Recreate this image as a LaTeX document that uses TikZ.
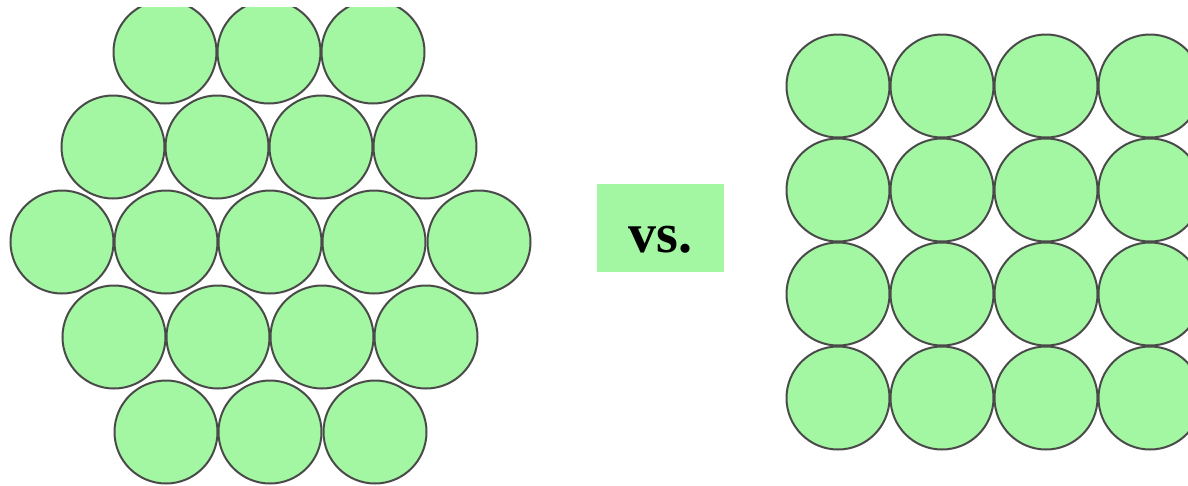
\documentclass[tikz,border=0pt]{standalone}
\usepackage{fontspec}
\setmainfont{Liberation Serif}
\definecolor{ballfill}{HTML}{A3F7A3}
\definecolor{ballline}{HTML}{4A4A4A}
\begin{document}
\begin{tikzpicture}[x=1pt,y=-1pt,
  ball/.style={circle,draw=ballline,line width=2pt,fill=ballfill,minimum size=103pt,inner sep=0pt},
  vsbox/.style={fill=ballfill,minimum width=127pt,minimum height=88pt,inner sep=0pt,text height=48pt,text depth=0pt,font=\fontsize{56}{60}\selectfont\bfseries}]
\useasboundingbox (0,0) rectangle (1188,485);
\begin{scope}
\clip (0,7) rectangle (1188,485);
% hexagonal packing
\foreach \x [count=\i] in {165,269,373} \node[ball] (h1-\i) at (\x,52) {};
\foreach \x [count=\i] in {113,217,321,425} \node[ball] (h2-\i) at (\x,147) {};
\foreach \x [count=\i] in {62,166,270,374,479} \node[ball] (h3-\i) at (\x,242) {};
\foreach \x [count=\i] in {114,218,322,426} \node[ball] (h4-\i) at (\x,337) {};
\foreach \x [count=\i] in {166,270,375} \node[ball] (h5-\i) at (\x,432) {};
% square packing
\foreach \y [count=\j] in {86,190,294,398}
  \foreach \x [count=\i] in {838,942,1046,1150}
    \node[ball] (s\j-\i) at (\x,\y) {};
\end{scope}
\node[vsbox] (vs) at (660.5,228) {vs.};
\end{tikzpicture}
\end{document}
